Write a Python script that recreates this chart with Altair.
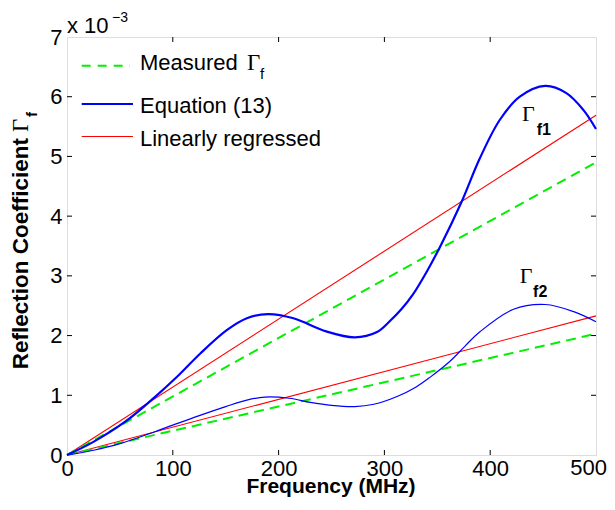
import altair as alt
import pandas as pd

# ---------------- data (values in units of 1e-3) ----------------
freq_eq_f1 = [0, 25, 56, 83, 104, 126, 151, 170, 190, 214, 245, 272, 293, 305,
              316, 327, 340, 353, 373, 390, 409, 428, 452, 472, 488, 500]
gamma_eq_f1 = [0, 0.22, 0.57, 0.97, 1.31, 1.70, 2.09, 2.29, 2.36, 2.29, 2.07, 1.97,
               2.06, 2.24, 2.44, 2.69, 3.07, 3.50, 4.24, 4.96, 5.61, 6.00, 6.18,
               6.06, 5.78, 5.46]
freq_eq_f2 = [0, 25, 50, 83, 100, 125, 150, 170, 187, 210, 230, 250, 272, 290,
              312, 330, 343, 362, 376, 390, 422, 452, 479, 500]
gamma_eq_f2 = [0, 0.08, 0.19, 0.39, 0.50, 0.66, 0.81, 0.92, 0.97, 0.95, 0.88, 0.83,
               0.81, 0.85, 0.98, 1.14, 1.30, 1.57, 1.82, 2.06, 2.44, 2.52, 2.40, 2.23]
freq_fit = [0, 500]
meas_f1 = [0, 4.90]
reg_f1 = [0, 5.69]
meas_f2 = [0, 2.03]
reg_f2 = [0, 2.33]

x_tick_values = [0, 100, 200, 300, 400, 500]
y_tick_values = [0, 1, 2, 3, 4, 5, 6, 7]
inner_x_ticks = [100, 200, 300, 400]
inner_y_ticks = [1, 2, 3, 4, 5, 6]

# curve label anchors (data coordinates)
label_gamma_x = [430, 428]
label_gamma_y = [5.59, 2.875]
label_sub_x = [444, 440.5]
label_sub_y = [5.36, 2.646]
label_sub_text = ["f1", "f2"]

# ---------------- layout ----------------
W, H = 529, 418
SANS = "Liberation Sans"
SERIF = "Liberation Serif"

xs = alt.Scale(domain=[0, 500], nice=False, zero=False)
ys = alt.Scale(domain=[0, 7], nice=False, zero=False)
xaxis = alt.Axis(values=x_tick_values, title=None, ticks=False, tickSize=0,
                 domain=False, grid=False, labelFlush=False, labelOverlap=False,
                 labelFont=SANS, labelFontSize=22, labelColor="black",
                 labelPadding=3, format="d",
                 labelExpr="datum.value == 500 ? '' : datum.label")
yaxis = alt.Axis(values=y_tick_values, title=None, ticks=False, tickSize=0,
                 domain=False, grid=False, labelFlush=False, labelOverlap=False,
                 labelFont=SANS, labelFontSize=22, labelColor="black",
                 labelPadding=5, format="d")


def X(field):
    return alt.X(field + ":Q", scale=xs, axis=xaxis)


def Y(field):
    return alt.Y(field + ":Q", scale=ys, axis=yaxis)


def curve(fx, fy, color, width, dash=None):
    df = pd.DataFrame({"f": fx, "g": fy})
    kw = dict(color=color, strokeWidth=width, interpolate="catmull-rom")
    if dash is not None:
        kw["strokeDash"] = dash
    return alt.Chart(df).mark_line(**kw).encode(x=X("f"), y=Y("g"))


one = pd.DataFrame({"k": [0]})


def ptext(txt, px, py, size, font=SANS, weight="normal", align="left",
          baseline="alphabetic", angle=0):
    return alt.Chart(one).mark_text(
        text=txt, font=font, fontSize=size, fontWeight=weight, align=align,
        baseline=baseline, angle=angle, color="black"
    ).encode(x=alt.value(px), y=alt.value(py))


def prule(x1, x2, y, color, width, dash=None):
    kw = dict(color=color, strokeWidth=width)
    if dash is not None:
        kw["strokeDash"] = dash
    return alt.Chart(one).mark_rule(**kw).encode(
        x=alt.value(x1), x2=alt.value(x2), y=alt.value(y))


GREEN = "#00f000"
BLUE = "#0000ff"
RED = "#ff0000"
DASH = [10, 6]

layers = []
# regression / measured lines
layers.append(curve(freq_fit, reg_f1, RED, 1.1))
layers.append(curve(freq_fit, reg_f2, RED, 1.1))
layers.append(curve(freq_fit, meas_f1, GREEN, 2, DASH))
layers.append(curve(freq_fit, meas_f2, GREEN, 2, DASH))
# equation (13)
layers.append(curve(freq_eq_f1, gamma_eq_f1, BLUE, 2.2))
layers.append(curve(freq_eq_f2, gamma_eq_f2, BLUE, 1.2))

# inner ticks
tx = pd.DataFrame({"t": inner_x_ticks})
ty = pd.DataFrame({"t": inner_y_ticks})
layers.append(alt.Chart(tx).mark_rule(color="black", strokeWidth=1).encode(
    x=X("t"), y=alt.value(H), y2=alt.value(H - 5)))
layers.append(alt.Chart(tx).mark_rule(color="black", strokeWidth=1).encode(
    x=X("t"), y=alt.value(0), y2=alt.value(5)))
layers.append(alt.Chart(ty).mark_rule(color="black", strokeWidth=1).encode(
    y=Y("t"), x=alt.value(0), x2=alt.value(5)))
layers.append(alt.Chart(ty).mark_rule(color="black", strokeWidth=1).encode(
    y=Y("t"), x=alt.value(W), x2=alt.value(W - 5)))

# last x tick label, kept inside the page edge
layers.append(ptext("500", W + 11, H + 3, 22, align="right", baseline="top"))

# curve labels
lg = pd.DataFrame({"f": label_gamma_x, "g": label_gamma_y})
ls = pd.DataFrame({"f": label_sub_x, "g": label_sub_y, "s": label_sub_text})
layers.append(alt.Chart(lg).mark_text(
    text="Γ", font=SERIF, fontSize=22, align="left", baseline="alphabetic",
    color="black").encode(x=X("f"), y=Y("g")))
layers.append(alt.Chart(ls).mark_text(
    font=SANS, fontSize=16, fontWeight="bold", align="left",
    baseline="alphabetic", color="black").encode(x=X("f"), y=Y("g"), text="s:N"))

# legend
layers.append(prule(14.7, 63, 28.7, GREEN, 2, [9, 7]))
layers.append(prule(14.7, 66, 67, BLUE, 2))
layers.append(prule(14.7, 66, 99.5, RED, 1.1))
layers.append(ptext("Measured", 73, 33, 22))
layers.append(ptext("Γ", 180, 33, 23, font=SERIF))
layers.append(ptext("f", 193, 42, 15))
layers.append(ptext("Equation (13)", 73, 75.5, 22))
layers.append(ptext("Linearly regressed", 73, 109, 22))

# exponent
layers.append(ptext("x 10", 0, -4, 22))
layers.append(ptext("\u22123", 45, -15, 14))

# axis titles
layers.append(ptext("Frequency (MHz)", 264, 456, 21, weight="bold", align="center"))
layers.append(ptext("Reflection Coefficient", -39.5, 101, 22.5, weight="bold",
                    align="right", angle=270))
layers.append(ptext("Γ", -39.5, 95, 23, font=SERIF, align="left", angle=270))
layers.append(ptext("f", -30, 80, 15, weight="bold", align="left", angle=270))

chart = alt.layer(*layers).properties(
    width=W, height=H,
    autosize=alt.AutoSizeParams(type="none"),
    padding={"left": 59, "top": 29, "right": 11, "bottom": 43},
).configure_view(stroke="black", strokeWidth=1.3).configure(background="white")

chart.save("out.html", embed_options={"renderer": "svg", "actions": False})
